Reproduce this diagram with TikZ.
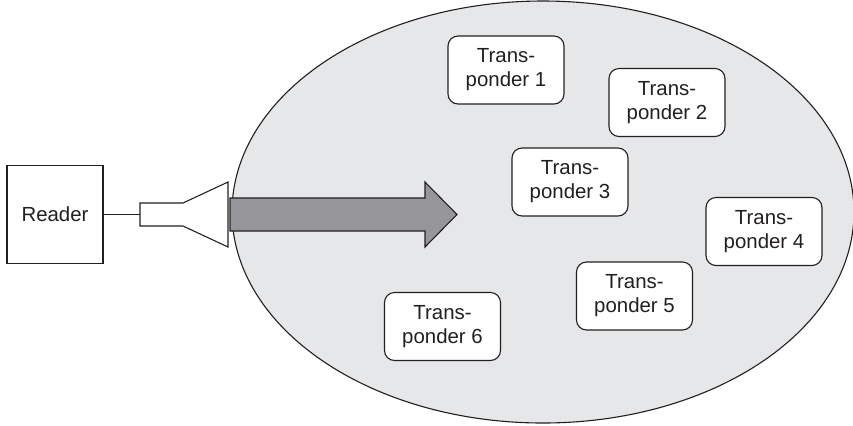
\documentclass[tikz,border=0pt]{standalone}
\usepackage{fontspec}
\setmainfont{Liberation Sans}
\usetikzlibrary{positioning}
\definecolor{FieldColor}{RGB}{230,231,233}
\definecolor{BeamColor}{RGB}{150,150,154}
\definecolor{InkColor}{RGB}{35,31,32}
\tikzset{
  tagbox/.style={draw=InkColor, fill=white, rounded corners=5pt, minimum width=58pt, minimum height=34pt, align=center, inner sep=1pt},
  readerbox/.style={draw=InkColor, fill=white, minimum width=48pt, minimum height=49pt, inner sep=0pt}
}

\begin{document}
\begin{tikzpicture}[x=0.5pt, y=-0.5pt, font=\fontsize{10.2}{12}\selectfont, line width=0.55pt, text=InkColor]
      \useasboundingbox (0,0) rectangle (853,425);
      % reading field
      \draw[InkColor, fill=FieldColor] (543,212) ellipse [x radius=155.5pt, y radius=105.5pt];
      \node[readerbox] (reader) at (55,214.5) {Reader};
      % antenna
      \draw[InkColor, fill=white] (140,203) -- (183,203) -- (228,182) -- (228,247) -- (183,226) -- (140,226) -- cycle;
      \coordinate (feed) at (140,214.5);
      \draw[InkColor] (reader.east) -- (feed);
      % beam
      \draw[InkColor, fill=BeamColor] (230,198) -- (425,198) -- (425,182) -- (457,214.5) -- (425,247) -- (425,231) -- (230,231) -- cycle;
      \node[tagbox] (tag1) at (506,70) {Trans-\\ponder 1};
      \node[tagbox] (tag2) at (667,102.5) {Trans-\\ponder 2};
      \node[tagbox] (tag3) at (570,182) {Trans-\\ponder 3};
      \node[tagbox] (tag4) at (764,231.5) {Trans-\\ponder 4};
      \node[tagbox] (tag5) at (634.5,296) {Trans-\\ponder 5};
      \node[tagbox] (tag6) at (442.5,326.5) {Trans-\\ponder 6};
    \end{tikzpicture}
\end{document}
